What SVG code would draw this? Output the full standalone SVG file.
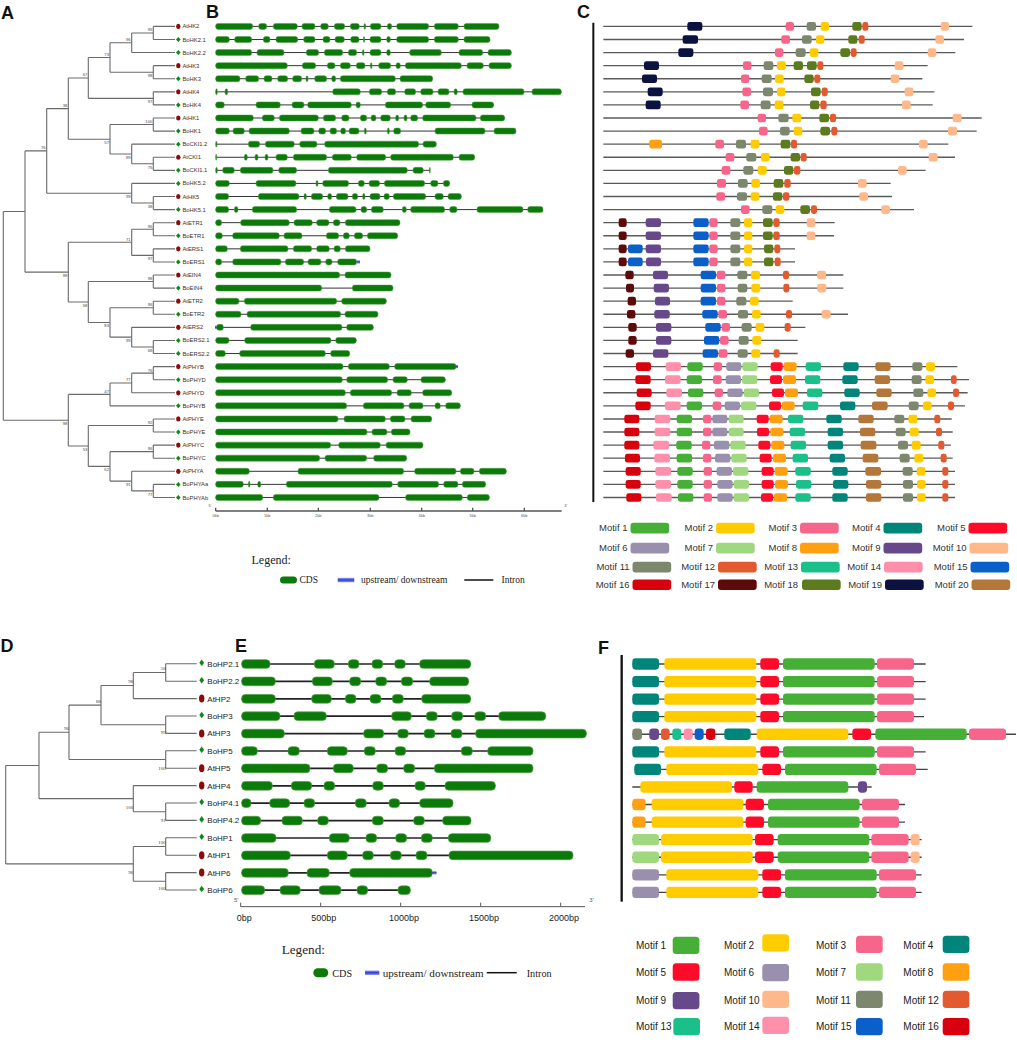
<svg xmlns="http://www.w3.org/2000/svg" xmlns:xlink="http://www.w3.org/1999/xlink" width="1017" height="1046" viewBox="0 0 1017 1046">
<style>
text{font-family:"Liberation Sans",Arial,sans-serif}
.lab{font-weight:bold;font-size:18px;fill:#111}
.tr{stroke:#6a6a6a;stroke-width:1.1;fill:none}
.bs{font-size:4.2px;fill:#444;text-anchor:end}
.bsd{font-family:"Liberation Serif","Times New Roman",serif;font-size:5px;fill:#444;text-anchor:end}
.ln{font-size:5.8px;fill:#333}
.ld{font-size:8px;fill:#222}
.ser{font-family:"Liberation Serif","Times New Roman",serif;fill:#222}
.gb rect{fill:#0B7A0B;stroke:#4E9E3E;stroke-width:1.5;y:-9px;height:18px;rx:7px}
.gb line{stroke:#333;stroke-width:3}
.ge rect{fill:#0B7A0B;stroke:#4E9E3E;stroke-width:2;y:-13px;height:26px;rx:11px}
.ge line{stroke:#222;stroke-width:5}
.gb rect.up,.ge rect.up{fill:url(#blu);stroke:none;y:-5px;height:10px;rx:0}
.pc line{stroke:#5a5a5a;stroke-width:4}
.pc rect{y:-13px;height:26px;rx:7px}
.pf line{stroke:#444;stroke-width:4}
.pf rect{y:-17px;height:34px;rx:10px}
.ax{stroke:#555;fill:none}
.mt{font-size:9.5px;fill:#333;text-anchor:end}
.mf{font-size:10px;fill:#222}
.m1{fill:#45B035}.m2{fill:#FFCC00}.m3{fill:#F7658B}.m4{fill:#00857A}.m5{fill:#FF0A28}
.m6{fill:#9890AC}.m7{fill:#A0D880}.m8{fill:#FFA010}.m9{fill:#67488A}.m10{fill:#FFB889}
.m11{fill:#7C876E}.m12{fill:#E45A30}.m13{fill:#1ABF8A}.m14{fill:#FF8FAA}.m15{fill:#0A60C8}
.m16{fill:#D8000C}.m17{fill:#5C0A0A}.m18{fill:#5B7B1E}.m19{fill:#0B1240}.m20{fill:#B5763A}
</style>
<defs>
<linearGradient id="blu" x1="0" y1="0" x2="0" y2="1"><stop offset="0" stop-color="#9aa0f2"/><stop offset="0.5" stop-color="#2a3ad0"/><stop offset="1" stop-color="#9aa0f2"/></linearGradient>
<ellipse id="ea" rx="2.2" ry="2.6" fill="#8B0B0B"/>
<path id="da" d="M0 -2.5 L2.3 0 L0 2.5 L-2.3 0Z" fill="#0B8A1B"/>
<ellipse id="ed" rx="2.7" ry="4" fill="#8B0B0B"/>
<path id="dd" d="M0 -4.3 L2.4 -1 L0 2.3 L-2.4 -1Z" fill="#0B8A1B"/>
</defs>
<rect width="1017" height="1046" fill="#fff"/>

<text class="lab" x="1" y="18.5">A</text>
<text class="lab" x="206" y="17.5">B</text>
<text class="lab" x="577" y="18">C</text>
<text class="lab" x="0.5" y="651.5">D</text>
<text class="lab" x="235" y="651.5">E</text>
<text class="lab" x="598" y="654">F</text>

<!-- Panel A tree connectors -->
<g id="connectorsA">
<path class="tr" d="M153.3 26.4V39.49M131.7 32.95V52.57M153.3 65.66V78.74M110 42.76V72.2M153.3 91.83V104.91M88.3 57.48V98.37M153.3 118V131.08M153.3 157.25V170.34M131.7 144.17V163.8M110 124.54V153.98M68.3 77.93V139.26M153.3 196.51V209.59M131.7 183.42V203.05M46.7 108.6V193.24M153.3 222.68V235.76M153.3 248.85V261.93M131.7 229.22V255.39M153.3 275.02V288.1M153.3 301.19V314.27M153.3 340.44V353.53M131.7 327.36V346.99M110 307.73V337.17M88.3 281.56V322.45M68.3 242.3V302M25 150.92V272.15M153.3 366.61V379.7M131.7 373.16V392.78M110 382.97V405.87M153.3 418.95V432.04M153.3 445.12V458.21M153.3 484.38V497.46M131.7 471.29V490.92M110 451.67V481.1M88.3 425.5V466.39M68.3 394.42V445.95M3.3 211.54V420.18"/>
<path class="tr" d="M153.3 26.4H175M153.3 39.49H175M131.7 52.57H175M153.3 65.66H175M153.3 78.74H175M153.3 91.83H175M153.3 104.91H175M153.3 118H175M153.3 131.08H175M131.7 144.17H175M153.3 157.25H175M153.3 170.34H175M131.7 183.42H175M153.3 196.51H175M153.3 209.59H175M153.3 222.68H175M153.3 235.76H175M153.3 248.85H175M153.3 261.93H175M153.3 275.02H175M153.3 288.1H175M153.3 301.19H175M153.3 314.27H175M131.7 327.36H175M153.3 340.44H175M153.3 353.53H175M153.3 366.61H175M153.3 379.7H175M131.7 392.78H175M110 405.87H175M153.3 418.95H175M153.3 432.04H175M153.3 445.12H175M153.3 458.21H175M131.7 471.29H175M153.3 484.38H175M153.3 497.46H175"/>
<path class="tr" d="M131.7 32.95H153.3M110 42.76H131.7M110 72.2H153.3M88.3 57.48H110M88.3 98.37H153.3M68.3 77.93H88.3M110 124.54H153.3M131.7 163.8H153.3M110 153.98H131.7M68.3 139.26H110M46.7 108.6H68.3M131.7 203.05H153.3M46.7 193.24H131.7M25 150.92H46.7M131.7 229.22H153.3M131.7 255.39H153.3M68.3 242.3H131.7M88.3 281.56H153.3M110 307.73H153.3M131.7 346.99H153.3M110 337.17H131.7M88.3 322.45H110M68.3 302H88.3M25 272.15H68.3M3.3 211.54H25M131.7 373.16H153.3M110 382.97H131.7M68.3 394.42H110M88.3 425.5H153.3M110 451.67H153.3M131.7 490.92H153.3M110 481.1H131.7M88.3 466.39H110M68.3 445.95H88.3M3.3 420.18H68.3"/>
</g>
<g id="bootstrapA">
<text class="bs" x="152.3" y="31.45">95</text><text class="bs" x="130.7" y="41.26">96</text><text class="bs" x="152.3" y="77">98</text><text class="bs" x="109" y="55.98">73</text><text class="bs" x="152.3" y="103.17">97</text><text class="bs" x="87.3" y="76.43">67</text><text class="bs" x="152.3" y="123.04">100</text><text class="bs" x="152.3" y="168.6">75</text><text class="bs" x="130.7" y="158.78">89</text><text class="bs" x="109" y="144.06">57</text><text class="bs" x="67.3" y="107.1">38</text><text class="bs" x="152.3" y="207.85">38</text><text class="bs" x="130.7" y="198.04">99</text><text class="bs" x="45.7" y="149.42">76</text>
<text class="bs" x="152.3" y="227.72">96</text><text class="bs" x="152.3" y="260.19">97</text><text class="bs" x="130.7" y="240.8">71</text><text class="bs" x="152.3" y="280.06">98</text><text class="bs" x="152.3" y="306.23">96</text><text class="bs" x="152.3" y="351.79">68</text><text class="bs" x="130.7" y="341.97">99</text><text class="bs" x="109" y="327.25">83</text><text class="bs" x="87.3" y="306.8">58</text><text class="bs" x="67.3" y="276.95">98</text>
<text class="bs" x="152.3" y="371.66">76</text><text class="bs" x="130.7" y="381.47">77</text><text class="bs" x="109" y="392.92">47</text><text class="bs" x="152.3" y="424">92</text><text class="bs" x="152.3" y="450.17">96</text><text class="bs" x="152.3" y="495.72">77</text><text class="bs" x="130.7" y="485.9">91</text><text class="bs" x="109" y="471.19">62</text><text class="bs" x="87.3" y="450.75">53</text><text class="bs" x="67.3" y="424.98">98</text>
</g>
<g id="leavesA">
<g id="A-AtHK2"><use href="#ea" x="178.3" y="26.4"/><text class="ln" x="182.5" y="28.4">AtHK2</text></g>
<g id="A-BoHK2.1"><use href="#da" x="178.3" y="39.49"/><text class="ln" x="182.5" y="41.5">BoHK2.1</text></g>
<g id="A-BoHK2.2"><use href="#da" x="178.3" y="52.57"/><text class="ln" x="182.5" y="54.6">BoHK2.2</text></g>
<g id="A-AtHK3"><use href="#ea" x="178.3" y="65.66"/><text class="ln" x="182.5" y="67.7">AtHK3</text></g>
<g id="A-BoHK3"><use href="#da" x="178.3" y="78.74"/><text class="ln" x="182.5" y="80.7">BoHK3</text></g>
<g id="A-AtHK4"><use href="#ea" x="178.3" y="91.83"/><text class="ln" x="182.5" y="93.8">AtHK4</text></g>
<g id="A-BoHK4"><use href="#da" x="178.3" y="104.91"/><text class="ln" x="182.5" y="106.9">BoHK4</text></g>
<g id="A-AtHK1"><use href="#ea" x="178.3" y="118"/><text class="ln" x="182.5" y="120">AtHK1</text></g>
<g id="A-BoHK1"><use href="#da" x="178.3" y="131.08"/><text class="ln" x="182.5" y="133.1">BoHK1</text></g>
<g id="A-BoCKI1.2"><use href="#da" x="178.3" y="144.17"/><text class="ln" x="182.5" y="146.2">BoCKI1.2</text></g>
<g id="A-AtCKI1"><use href="#ea" x="178.3" y="157.25"/><text class="ln" x="182.5" y="159.3">AtCKI1</text></g>
<g id="A-BoCKI1.1"><use href="#da" x="178.3" y="170.34"/><text class="ln" x="182.5" y="172.3">BoCKI1.1</text></g>
<g id="A-BoHK5.2"><use href="#da" x="178.3" y="183.42"/><text class="ln" x="182.5" y="185.4">BoHK5.2</text></g>
<g id="A-AtHK5"><use href="#ea" x="178.3" y="196.51"/><text class="ln" x="182.5" y="198.5">AtHK5</text></g>
<g id="A-BoHK5.1"><use href="#da" x="178.3" y="209.59"/><text class="ln" x="182.5" y="211.6">BoHK5.1</text></g>
<g id="A-AtETR1"><use href="#ea" x="178.3" y="222.68"/><text class="ln" x="182.5" y="224.7">AtETR1</text></g>
<g id="A-BoETR1"><use href="#da" x="178.3" y="235.76"/><text class="ln" x="182.5" y="237.8">BoETR1</text></g>
<g id="A-AtERS1"><use href="#ea" x="178.3" y="248.85"/><text class="ln" x="182.5" y="250.9">AtERS1</text></g>
<g id="A-BoERS1"><use href="#da" x="178.3" y="261.93"/><text class="ln" x="182.5" y="263.9">BoERS1</text></g>
<g id="A-AtEIN4"><use href="#ea" x="178.3" y="275.02"/><text class="ln" x="182.5" y="277">AtEIN4</text></g>
<g id="A-BoEIN4"><use href="#da" x="178.3" y="288.1"/><text class="ln" x="182.5" y="290.1">BoEIN4</text></g>
<g id="A-AtETR2"><use href="#ea" x="178.3" y="301.19"/><text class="ln" x="182.5" y="303.2">AtETR2</text></g>
<g id="A-BoETR2"><use href="#da" x="178.3" y="314.27"/><text class="ln" x="182.5" y="316.3">BoETR2</text></g>
<g id="A-AtERS2"><use href="#ea" x="178.3" y="327.36"/><text class="ln" x="182.5" y="329.4">AtERS2</text></g>
<g id="A-BoERS2.1"><use href="#da" x="178.3" y="340.44"/><text class="ln" x="182.5" y="342.4">BoERS2.1</text></g>
<g id="A-BoERS2.2"><use href="#da" x="178.3" y="353.53"/><text class="ln" x="182.5" y="355.5">BoERS2.2</text></g>
<g id="A-AtPHYB"><use href="#ea" x="178.3" y="366.61"/><text class="ln" x="182.5" y="368.6">AtPHYB</text></g>
<g id="A-BoPHYD"><use href="#da" x="178.3" y="379.7"/><text class="ln" x="182.5" y="381.7">BoPHYD</text></g>
<g id="A-AtPHYD"><use href="#ea" x="178.3" y="392.78"/><text class="ln" x="182.5" y="394.8">AtPHYD</text></g>
<g id="A-BoPHYB"><use href="#da" x="178.3" y="405.87"/><text class="ln" x="182.5" y="407.9">BoPHYB</text></g>
<g id="A-AtPHYE"><use href="#ea" x="178.3" y="418.95"/><text class="ln" x="182.5" y="421">AtPHYE</text></g>
<g id="A-BoPHYE"><use href="#da" x="178.3" y="432.04"/><text class="ln" x="182.5" y="434">BoPHYE</text></g>
<g id="A-AtPHYC"><use href="#ea" x="178.3" y="445.12"/><text class="ln" x="182.5" y="447.1">AtPHYC</text></g>
<g id="A-BoPHYC"><use href="#da" x="178.3" y="458.21"/><text class="ln" x="182.5" y="460.2">BoPHYC</text></g>
<g id="A-AtPHYA"><use href="#ea" x="178.3" y="471.29"/><text class="ln" x="182.5" y="473.3">AtPHYA</text></g>
<g id="A-BoPHYAa"><use href="#da" x="178.3" y="484.38"/><text class="ln" x="182.5" y="486.4">BoPHYAa</text></g>
<g id="A-BoPHYAb"><use href="#da" x="178.3" y="497.46"/><text class="ln" x="182.5" y="499.5">BoPHYAb</text></g>
</g>

<!-- Panel B gene structures (coords x3) -->
<g id="panelB" transform="translate(200,0) scale(0.333333)">
<g id="B-AtHK2" class="gb" transform="translate(0,79.2)"><line x1="47" x2="897"/><rect x="47" width="111"/><rect x="176" width="24"/><rect x="220" width="72"/><rect x="306" width="39"/><rect x="362" width="23"/><rect x="403" width="31"/><rect x="451" width="27"/><rect x="492" width="5"/><rect x="511" width="32"/><rect x="562" width="13"/><rect x="590" width="96"/><rect x="703" width="72"/><rect x="792" width="105"/></g>
<g id="B-BoHK2.1" class="gb" transform="translate(0,118.5)"><line x1="47" x2="870"/><rect x="47" width="41"/><rect x="104" width="51"/><rect x="190" width="20"/><rect x="228" width="65"/><rect x="311" width="34"/><rect x="369" width="21"/><rect x="405" width="28"/><rect x="452" width="25"/><rect x="490" width="4"/><rect x="510" width="33"/><rect x="560" width="11"/><rect x="590" width="96"/><rect x="703" width="72"/><rect x="792" width="78"/></g>
<g id="B-BoHK2.2" class="gb" transform="translate(0,157.7)"><line x1="47" x2="934"/><rect x="47" width="108"/><rect x="171" width="81"/><rect x="319" width="37"/><rect x="373" width="55"/><rect x="445" width="25"/><rect x="487" width="5"/><rect x="510" width="33"/><rect x="560" width="11"/><rect x="629" width="95"/><rect x="777" width="71"/><rect x="864" width="70"/></g>
<g id="B-AtHK3" class="gb" transform="translate(0,197)"><line x1="47" x2="934"/><rect x="47" width="215"/><rect x="307" width="40"/><rect x="382" width="23"/><rect x="421" width="30"/><rect x="469" width="26"/><rect x="511" width="5"/><rect x="536" width="36"/><rect x="588" width="13"/><rect x="616" width="168"/><rect x="801" width="49"/><rect x="867" width="67"/></g>
<g id="B-BoHK3" class="gb" transform="translate(0,236.2)"><line x1="47" x2="698"/><rect x="47" width="73"/><rect x="137" width="39"/><rect x="192" width="24"/><rect x="233" width="30"/><rect x="278" width="27"/><rect x="318" width="6"/><rect x="344" width="36"/><rect x="395" width="12"/><rect x="421" width="165"/><rect x="600" width="98"/></g>
<g id="B-AtHK4" class="gb" transform="translate(0,275.5)"><line x1="47" x2="1084"/><rect x="47" width="5"/><rect x="75" width="8"/><rect x="398" width="83"/><rect x="508" width="37"/><rect x="562" width="25"/><rect x="614" width="33"/><rect x="662" width="37"/><rect x="714" width="33"/><rect x="762" width="10"/><rect x="789" width="183"/><rect x="996" width="88"/></g>
<g id="B-BoHK4" class="gb" transform="translate(0,314.7)"><line x1="47" x2="881"/><rect x="47" width="26"/><rect x="168" width="73"/><rect x="276" width="36"/><rect x="323" width="131"/><rect x="468" width="13"/><rect x="556" width="112"/><rect x="677" width="75"/><rect x="816" width="65"/></g>
<g id="B-AtHK1" class="gb" transform="translate(0,354)"><line x1="47" x2="914"/><rect x="47" width="113"/><rect x="187" width="36"/><rect x="238" width="117"/><rect x="370" width="37"/><rect x="425" width="22"/><rect x="481" width="19"/><rect x="513" width="15"/><rect x="542" width="29"/><rect x="587" width="9"/><rect x="612" width="9"/><rect x="632" width="21"/><rect x="668" width="160"/><rect x="841" width="73"/></g>
<g id="B-BoHK1" class="gb" transform="translate(0,393.2)"><line x1="47" x2="948"/><rect x="47" width="41"/><rect x="99" width="34"/><rect x="147" width="121"/><rect x="303" width="39"/><rect x="356" width="21"/><rect x="390" width="20"/><rect x="422" width="15"/><rect x="447" width="30"/><rect x="493" width="6"/><rect x="562" width="6"/><rect x="581" width="21"/><rect x="705" width="150"/><rect x="882" width="66"/></g>
<g id="B-BoCKI1.2" class="gb" transform="translate(0,432.5)"><line x1="47" x2="709"/><rect x="47" width="4"/><rect x="145" width="34"/><rect x="196" width="87"/><rect x="299" width="52"/><rect x="374" width="282"/><rect x="669" width="40"/></g>
<g id="B-AtCKI1" class="gb" transform="translate(0,471.8)"><line x1="47" x2="824"/><rect x="47" width="3"/><rect x="133" width="9"/><rect x="165" width="9"/><rect x="195" width="9"/><rect x="228" width="34"/><rect x="280" width="100"/><rect x="397" width="57"/><rect x="470" width="87"/><rect x="572" width="188"/><rect x="777" width="47"/></g>
<g id="B-BoCKI1.1" class="gb" transform="translate(0,511)"><line x1="47" x2="690"/><rect x="47" width="5"/><rect x="68" width="35"/><rect x="121" width="98"/><rect x="236" width="54"/><rect x="385" width="237"/><rect x="639" width="31"/><rect x="688" width="3"/></g>
<g id="B-BoHK5.2" class="gb" transform="translate(0,550.3)"><line x1="47" x2="749"/><rect x="47" width="41"/><rect x="168" width="120"/><rect x="348" width="6"/><rect x="368" width="78"/><rect x="475" width="18"/><rect x="507" width="32"/><rect x="553" width="121"/><rect x="692" width="22"/><rect x="730" width="19"/></g>
<g id="B-AtHK5" class="gb" transform="translate(0,589.5)"><line x1="47" x2="784"/><rect x="47" width="39"/><rect x="175" width="122"/><rect x="312" width="7"/><rect x="334" width="34"/><rect x="383" width="12"/><rect x="409" width="35"/><rect x="457" width="16"/><rect x="488" width="7"/><rect x="510" width="30"/><rect x="552" width="16"/><rect x="580" width="97"/><rect x="705" width="25"/><rect x="744" width="40"/></g>
<g id="B-BoHK5.1" class="gb" transform="translate(0,628.8)"><line x1="47" x2="1029"/><rect x="47" width="39"/><rect x="103" width="11"/><rect x="157" width="133"/><rect x="388" width="80"/><rect x="483" width="17"/><rect x="514" width="36"/><rect x="607" width="12"/><rect x="632" width="102"/><rect x="749" width="22"/><rect x="831" width="138"/><rect x="983" width="46"/></g>
<g id="B-AtETR1" class="gb" transform="translate(0,668)"><line x1="47" x2="600"/><rect x="47" width="18"/><rect x="122" width="146"/><rect x="282" width="55"/><rect x="350" width="37"/><rect x="400" width="20"/><rect x="436" width="164"/></g>
<g id="B-BoETR1" class="gb" transform="translate(0,707.3)"><line x1="47" x2="593"/><rect x="47" width="20"/><rect x="98" width="140"/><rect x="252" width="54"/><rect x="379" width="37"/><rect x="430" width="18"/><rect x="463" width="25"/><rect x="502" width="91"/></g>
<g id="B-AtERS1" class="gb" transform="translate(0,746.5)"><line x1="47" x2="510"/><rect x="47" width="35"/><rect x="121" width="143"/><rect x="280" width="55"/><rect x="350" width="38"/><rect x="402" width="19"/><rect x="436" width="74"/></g>
<g id="B-BoERS1" class="gb" transform="translate(0,785.8)"><line x1="47" x2="470"/><rect x="47" width="18"/><rect x="98" width="145"/><rect x="256" width="55"/><rect x="324" width="39"/><rect x="377" width="19"/><rect x="413" width="57"/><rect class="up" x="470" width="10"/></g>
<g id="B-AtEIN4" class="gb" transform="translate(0,825)"><line x1="47" x2="573"/><rect x="47" width="372"/><rect x="435" width="138"/></g>
<g id="B-BoEIN4" class="gb" transform="translate(0,864.3)"><line x1="47" x2="579"/><rect x="47" width="318"/><rect x="457" width="122"/></g>
<g id="B-AtETR2" class="gb" transform="translate(0,903.6)"><line x1="47" x2="559"/><rect x="47" width="70"/><rect x="133" width="277"/><rect x="425" width="134"/></g>
<g id="B-BoETR2" class="gb" transform="translate(0,942.8)"><line x1="47" x2="534"/><rect x="47" width="76"/><rect x="141" width="281"/><rect x="435" width="99"/></g>
<g id="B-AtERS2" class="gb" transform="translate(0,982.1)"><line x1="47" x2="520"/><rect class="up" x="45" width="6"/><rect x="50" width="20"/><rect x="152" width="274"/><rect x="440" width="80"/></g>
<g id="B-BoERS2.1" class="gb" transform="translate(0,1021.3)"><line x1="47" x2="469"/><rect x="47" width="40"/><rect x="134" width="259"/><rect x="407" width="62"/></g>
<g id="B-BoERS2.2" class="gb" transform="translate(0,1060.6)"><line x1="47" x2="449"/><rect x="47" width="29"/><rect x="119" width="257"/><rect x="392" width="57"/></g>
<g id="B-AtPHYB" class="gb" transform="translate(0,1099.8)"><line x1="47" x2="768"/><rect x="47" width="382"/><rect x="445" width="123"/><rect x="584" width="184"/><rect class="up" x="768" width="6"/></g>
<g id="B-BoPHYD" class="gb" transform="translate(0,1139.1)"><line x1="47" x2="736"/><rect x="47" width="380"/><rect x="440" width="123"/><rect x="579" width="43"/><rect x="663" width="73"/></g>
<g id="B-AtPHYD" class="gb" transform="translate(0,1178.3)"><line x1="47" x2="755"/><rect x="47" width="389"/><rect x="451" width="124"/><rect x="591" width="43"/><rect x="668" width="87"/></g>
<g id="B-BoPHYB" class="gb" transform="translate(0,1217.6)"><line x1="47" x2="781"/><rect x="47" width="393"/><rect x="490" width="122"/><rect x="627" width="42"/><rect x="705" width="16"/><rect x="737" width="44"/></g>
<g id="B-AtPHYE" class="gb" transform="translate(0,1256.9)"><line x1="47" x2="695"/><rect x="47" width="367"/><rect x="432" width="124"/><rect x="571" width="44"/><rect x="633" width="62"/></g>
<g id="B-BoPHYE" class="gb" transform="translate(0,1296.1)"><line x1="47" x2="630"/><rect x="47" width="454"/><rect x="516" width="45"/><rect x="574" width="56"/></g>
<g id="B-AtPHYC" class="gb" transform="translate(0,1335.4)"><line x1="47" x2="669"/><rect x="47" width="345"/><rect x="416" width="125"/><rect x="558" width="111"/></g>
<g id="B-BoPHYC" class="gb" transform="translate(0,1374.6)"><line x1="47" x2="620"/><rect x="47" width="312"/><rect x="375" width="125"/><rect x="521" width="99"/></g>
<g id="B-AtPHYA" class="gb" transform="translate(0,1413.9)"><line x1="47" x2="919"/><rect x="47" width="101"/><rect x="294" width="317"/><rect x="644" width="124"/><rect x="781" width="41"/><rect x="838" width="81"/></g>
<g id="B-BoPHYAa" class="gb" transform="translate(0,1453.1)"><line x1="47" x2="857"/><rect x="47" width="83"/><rect x="145" width="5"/><rect x="173" width="9"/><rect x="259" width="318"/><rect x="593" width="123"/><rect x="731" width="43"/><rect x="787" width="70"/></g>
<g id="B-BoPHYAb" class="gb" transform="translate(0,1492.4)"><line x1="47" x2="868"/><rect x="47" width="141"/><rect x="220" width="317"/><rect x="617" width="170"/><rect x="802" width="66"/></g>
<g id="B-axis">
<path class="ax" stroke-width="4" d="M47 1533H1085M47 1533V1523M202 1533V1523M355 1533V1523M511 1533V1523M665 1533V1523M818 1533V1523M973 1533V1523"/>
<g font-size="12" fill="#555" text-anchor="middle"><text x="47" y="1551">0kb</text><text x="202" y="1551">1kb</text><text x="355" y="1551">2kb</text><text x="511" y="1551">3kb</text><text x="665" y="1551">4kb</text><text x="818" y="1551">5kb</text><text x="973" y="1551">6kb</text><text x="30" y="1520">5'</text><text x="1097" y="1520">3'</text></g>
</g>
</g>
<g id="legendB">
<text class="ser" x="251.5" y="563.5" font-size="12">Legend:</text>
<rect x="280" y="576.5" width="17" height="7" rx="3.5" fill="#0B7A0B"/>
<text class="ser" x="299.5" y="583.2" font-size="9.5">CDS</text>
<rect x="337.7" y="577.8" width="16.6" height="4.5" fill="url(#blu)"/>
<text class="ser" x="361" y="583.2" font-size="9.5">upstream/ downstream</text>
<line x1="464.3" y1="580" x2="493.3" y2="580" stroke="#111" stroke-width="1.5"/>
<text class="ser" x="501.5" y="583.2" font-size="9.5">Intron</text>
</g>

<!-- Panel C motifs (coords x3) -->
<g id="panelC" class="pc" transform="translate(580,0) scale(0.333333)">
<line x1="40" y1="68" x2="40" y2="1506" style="stroke:#111;stroke-width:6"/>
<g id="C-AtHK2" transform="translate(0,79.2)"><line x1="70" x2="1177"/><rect class="m19" x="322" width="45"/><rect class="m3" x="617" width="25"/><rect class="m11" x="680" width="28"/><rect class="m2" x="722" width="25"/><rect class="m18" x="817" width="28"/><rect class="m12" x="847" width="18"/><rect class="m10" x="1082" width="25"/></g>
<g id="C-BoHK2.1" transform="translate(0,118.5)"><line x1="70" x2="1152"/><rect class="m19" x="308" width="46"/><rect class="m3" x="604" width="26"/><rect class="m11" x="666" width="29"/><rect class="m2" x="708" width="25"/><rect class="m18" x="805" width="27"/><rect class="m12" x="836" width="18"/><rect class="m10" x="1066" width="26"/></g>
<g id="C-BoHK2.2" transform="translate(0,157.7)"><line x1="70" x2="1126"/><rect class="m19" x="295" width="45"/><rect class="m3" x="585" width="25"/><rect class="m11" x="647" width="30"/><rect class="m2" x="689" width="26"/><rect class="m18" x="781" width="29"/><rect class="m12" x="812" width="18"/><rect class="m10" x="1043" width="26"/></g>
<g id="C-AtHK3" transform="translate(0,197)"><line x1="70" x2="1043"/><rect class="m19" x="192" width="45"/><rect class="m3" x="489" width="25"/><rect class="m11" x="551" width="29"/><rect class="m2" x="591" width="27"/><rect class="m18" x="641" width="28"/><rect class="m18" x="681" width="29"/><rect class="m12" x="712" width="18"/><rect class="m10" x="944" width="26"/></g>
<g id="C-BoHK3" transform="translate(0,236.2)"><line x1="70" x2="1027"/><rect class="m19" x="186" width="45"/><rect class="m3" x="483" width="25"/><rect class="m11" x="545" width="30"/><rect class="m2" x="585" width="26"/><rect class="m18" x="673" width="28"/><rect class="m12" x="703" width="18"/><rect class="m10" x="932" width="26"/></g>
<g id="C-AtHK4" transform="translate(0,275.5)"><line x1="70" x2="1063"/><rect class="m19" x="203" width="45"/><rect class="m3" x="487" width="26"/><rect class="m11" x="549" width="30"/><rect class="m2" x="591" width="25"/><rect class="m18" x="693" width="29"/><rect class="m12" x="725" width="18"/><rect class="m10" x="974" width="26"/></g>
<g id="C-BoHK4" transform="translate(0,314.7)"><line x1="70" x2="1058"/><rect class="m19" x="197" width="45"/><rect class="m3" x="481" width="26"/><rect class="m11" x="542" width="30"/><rect class="m2" x="584" width="26"/><rect class="m18" x="690" width="28"/><rect class="m12" x="721" width="19"/><rect class="m10" x="966" width="26"/></g>
<g id="C-AtHK1" transform="translate(0,354)"><line x1="70" x2="1205"/><rect class="m3" x="533" width="25"/><rect class="m11" x="595" width="31"/><rect class="m2" x="637" width="27"/><rect class="m18" x="718" width="29"/><rect class="m12" x="750" width="18"/><rect class="m10" x="1118" width="27"/></g>
<g id="C-BoHK1" transform="translate(0,393.2)"><line x1="70" x2="1190"/><rect class="m3" x="537" width="26"/><rect class="m11" x="600" width="29"/><rect class="m2" x="641" width="26"/><rect class="m18" x="721" width="29"/><rect class="m12" x="754" width="18"/><rect class="m10" x="1104" width="27"/></g>
<g id="C-BoCKI1.2" transform="translate(0,432.5)"><line x1="70" x2="1105"/><rect class="m8" x="208" width="38"/><rect class="m3" x="406" width="26"/><rect class="m11" x="468" width="30"/><rect class="m2" x="512" width="26"/><rect class="m18" x="602" width="29"/><rect class="m12" x="633" width="18"/><rect class="m10" x="1017" width="26"/></g>
<g id="C-AtCKI1" transform="translate(0,471.8)"><line x1="70" x2="1125"/><rect class="m3" x="437" width="26"/><rect class="m11" x="499" width="30"/><rect class="m2" x="543" width="26"/><rect class="m18" x="632" width="28"/><rect class="m12" x="662" width="18"/><rect class="m10" x="1046" width="27"/></g>
<g id="C-BoCKI1.1" transform="translate(0,511)"><line x1="70" x2="1037"/><rect class="m3" x="425" width="26"/><rect class="m11" x="490" width="30"/><rect class="m2" x="533" width="27"/><rect class="m18" x="612" width="28"/><rect class="m12" x="642" width="19"/><rect class="m10" x="954" width="26"/></g>
<g id="C-BoHK5.2" transform="translate(0,550.3)"><line x1="70" x2="932"/><rect class="m3" x="411" width="27"/><rect class="m11" x="474" width="29"/><rect class="m2" x="514" width="26"/><rect class="m18" x="581" width="29"/><rect class="m12" x="613" width="19"/><rect class="m10" x="834" width="26"/></g>
<g id="C-AtHK5" transform="translate(0,589.5)"><line x1="70" x2="936"/><rect class="m3" x="409" width="26"/><rect class="m11" x="471" width="30"/><rect class="m2" x="512" width="26"/><rect class="m18" x="579" width="28"/><rect class="m12" x="609" width="19"/><rect class="m10" x="838" width="26"/></g>
<g id="C-BoHK5.1" transform="translate(0,628.8)"><line x1="70" x2="1002"/><rect class="m3" x="483" width="26"/><rect class="m11" x="547" width="30"/><rect class="m2" x="587" width="26"/><rect class="m18" x="661" width="29"/><rect class="m12" x="693" width="18"/><rect class="m10" x="904" width="26"/></g>
<g id="C-AtETR1" transform="translate(0,668)"><line x1="70" x2="764"/><rect class="m17" x="116" width="24"/><rect class="m9" x="197" width="46"/><rect class="m15" x="340" width="46"/><rect class="m3" x="388" width="25"/><rect class="m11" x="451" width="30"/><rect class="m2" x="492" width="25"/><rect class="m18" x="549" width="29"/><rect class="m12" x="580" width="19"/><rect class="m10" x="680" width="26"/></g>
<g id="C-BoETR1" transform="translate(0,707.3)"><line x1="70" x2="762"/><rect class="m17" x="116" width="24"/><rect class="m9" x="197" width="46"/><rect class="m15" x="340" width="46"/><rect class="m3" x="388" width="25"/><rect class="m11" x="451" width="30"/><rect class="m2" x="492" width="25"/><rect class="m18" x="549" width="29"/><rect class="m12" x="580" width="19"/><rect class="m10" x="680" width="26"/></g>
<g id="C-AtERS1" transform="translate(0,746.5)"><line x1="70" x2="645"/><rect class="m17" x="116" width="24"/><rect class="m15" x="144" width="44"/><rect class="m9" x="197" width="46"/><rect class="m15" x="340" width="46"/><rect class="m3" x="388" width="25"/><rect class="m11" x="451" width="30"/><rect class="m2" x="492" width="25"/><rect class="m18" x="552" width="28"/><rect class="m12" x="583" width="18"/></g>
<g id="C-BoERS1" transform="translate(0,785.8)"><line x1="70" x2="645"/><rect class="m17" x="116" width="24"/><rect class="m15" x="144" width="44"/><rect class="m9" x="198" width="45"/><rect class="m15" x="340" width="46"/><rect class="m3" x="388" width="25"/><rect class="m11" x="451" width="30"/><rect class="m2" x="492" width="25"/><rect class="m18" x="552" width="28"/><rect class="m12" x="584" width="18"/></g>
<g id="C-AtEIN4" transform="translate(0,825)"><line x1="70" x2="790"/><rect class="m17" x="136" width="25"/><rect class="m9" x="219" width="45"/><rect class="m15" x="362" width="46"/><rect class="m3" x="410" width="26"/><rect class="m11" x="472" width="30"/><rect class="m2" x="513" width="27"/><rect class="m12" x="609" width="18"/><rect class="m10" x="711" width="27"/></g>
<g id="C-BoEIN4" transform="translate(0,864.3)"><line x1="70" x2="790"/><rect class="m17" x="138" width="24"/><rect class="m9" x="221" width="46"/><rect class="m15" x="362" width="46"/><rect class="m3" x="411" width="25"/><rect class="m11" x="473" width="29"/><rect class="m2" x="514" width="27"/><rect class="m12" x="610" width="18"/><rect class="m10" x="712" width="27"/></g>
<g id="C-AtETR2" transform="translate(0,903.6)"><line x1="70" x2="638"/><rect class="m17" x="143" width="25"/><rect class="m9" x="225" width="45"/><rect class="m15" x="362" width="46"/><rect class="m3" x="411" width="25"/><rect class="m11" x="469" width="30"/><rect class="m2" x="510" width="26"/></g>
<g id="C-BoETR2" transform="translate(0,942.8)"><line x1="70" x2="804"/><rect class="m17" x="141" width="25"/><rect class="m9" x="223" width="46"/><rect class="m15" x="367" width="46"/><rect class="m3" x="415" width="26"/><rect class="m11" x="474" width="30"/><rect class="m2" x="516" width="26"/><rect class="m12" x="618" width="18"/><rect class="m10" x="725" width="27"/></g>
<g id="C-AtERS2" transform="translate(0,982.1)"><line x1="70" x2="676"/><rect class="m17" x="145" width="25"/><rect class="m9" x="228" width="46"/><rect class="m15" x="376" width="46"/><rect class="m3" x="425" width="25"/><rect class="m11" x="485" width="30"/><rect class="m2" x="527" width="26"/><rect class="m12" x="614" width="18"/></g>
<g id="C-BoERS2.1" transform="translate(0,1021.3)"><line x1="70" x2="653"/><rect class="m17" x="145" width="25"/><rect class="m9" x="228" width="46"/><rect class="m15" x="372" width="46"/><rect class="m3" x="420" width="26"/><rect class="m11" x="476" width="30"/><rect class="m2" x="517" width="27"/></g>
<g id="C-BoERS2.2" transform="translate(0,1060.6)"><line x1="70" x2="653"/><rect class="m17" x="137" width="25"/><rect class="m9" x="219" width="46"/><rect class="m15" x="368" width="46"/><rect class="m3" x="416" width="26"/><rect class="m11" x="473" width="30"/><rect class="m2" x="514" width="27"/><rect class="m12" x="581" width="18"/></g>
<g id="C-AtPHYB" transform="translate(0,1099.8)"><line x1="70" x2="1132"/><rect class="m16" x="168" width="45"/><rect class="m14" x="257" width="46"/><rect class="m1" x="322" width="46"/><rect class="m3" x="401" width="25"/><rect class="m6" x="439" width="45"/><rect class="m7" x="487" width="46"/><rect class="m5" x="572" width="36"/><rect class="m8" x="611" width="39"/><rect class="m13" x="677" width="46"/><rect class="m4" x="790" width="46"/><rect class="m20" x="886" width="46"/><rect class="m11" x="997" width="30"/><rect class="m2" x="1038" width="27"/></g>
<g id="C-BoPHYD" transform="translate(0,1139.1)"><line x1="70" x2="1167"/><rect class="m16" x="166" width="46"/><rect class="m14" x="255" width="47"/><rect class="m1" x="320" width="46"/><rect class="m3" x="399" width="26"/><rect class="m6" x="437" width="46"/><rect class="m7" x="486" width="46"/><rect class="m5" x="570" width="36"/><rect class="m8" x="609" width="39"/><rect class="m13" x="675" width="46"/><rect class="m4" x="787" width="46"/><rect class="m20" x="884" width="46"/><rect class="m11" x="995" width="30"/><rect class="m2" x="1036" width="26"/><rect class="m12" x="1113" width="17"/></g>
<g id="C-AtPHYD" transform="translate(0,1178.3)"><line x1="70" x2="1163"/><rect class="m16" x="170" width="45"/><rect class="m14" x="259" width="47"/><rect class="m1" x="324" width="46"/><rect class="m3" x="404" width="25"/><rect class="m6" x="442" width="46"/><rect class="m7" x="491" width="46"/><rect class="m5" x="576" width="36"/><rect class="m8" x="615" width="39"/><rect class="m13" x="681" width="46"/><rect class="m4" x="793" width="46"/><rect class="m20" x="889" width="46"/><rect class="m11" x="1000" width="30"/><rect class="m2" x="1042" width="26"/><rect class="m12" x="1119" width="18"/></g>
<g id="C-BoPHYB" transform="translate(0,1217.6)"><line x1="70" x2="1155"/><rect class="m16" x="166" width="46"/><rect class="m14" x="255" width="47"/><rect class="m1" x="320" width="46"/><rect class="m3" x="398" width="26"/><rect class="m6" x="434" width="46"/><rect class="m7" x="483" width="46"/><rect class="m5" x="567" width="36"/><rect class="m8" x="606" width="38"/><rect class="m13" x="668" width="47"/><rect class="m4" x="780" width="46"/><rect class="m20" x="876" width="47"/><rect class="m11" x="986" width="30"/><rect class="m2" x="1029" width="26"/><rect class="m12" x="1104" width="18"/></g>
<g id="C-AtPHYE" transform="translate(0,1256.9)"><line x1="70" x2="1115"/><rect class="m16" x="133" width="45"/><rect class="m14" x="224" width="47"/><rect class="m1" x="290" width="46"/><rect class="m3" x="369" width="25"/><rect class="m6" x="397" width="45"/><rect class="m7" x="446" width="45"/><rect class="m5" x="530" width="36"/><rect class="m8" x="569" width="39"/><rect class="m13" x="624" width="46"/><rect class="m4" x="739" width="46"/><rect class="m20" x="835" width="46"/><rect class="m11" x="943" width="30"/><rect class="m2" x="985" width="27"/><rect class="m12" x="1063" width="18"/></g>
<g id="C-BoPHYE" transform="translate(0,1296.1)"><line x1="70" x2="1118"/><rect class="m16" x="133" width="45"/><rect class="m14" x="224" width="47"/><rect class="m1" x="290" width="46"/><rect class="m3" x="369" width="25"/><rect class="m6" x="397" width="45"/><rect class="m7" x="446" width="45"/><rect class="m5" x="531" width="36"/><rect class="m8" x="571" width="39"/><rect class="m13" x="629" width="46"/><rect class="m4" x="743" width="46"/><rect class="m20" x="840" width="46"/><rect class="m11" x="947" width="30"/><rect class="m2" x="989" width="27"/><rect class="m12" x="1068" width="18"/></g>
<g id="C-AtPHYC" transform="translate(0,1335.4)"><line x1="70" x2="1113"/><rect class="m16" x="133" width="45"/><rect class="m14" x="220" width="47"/><rect class="m1" x="289" width="46"/><rect class="m3" x="366" width="25"/><rect class="m6" x="402" width="46"/><rect class="m7" x="451" width="46"/><rect class="m5" x="535" width="36"/><rect class="m8" x="574" width="39"/><rect class="m13" x="632" width="46"/><rect class="m4" x="743" width="46"/><rect class="m20" x="842" width="47"/><rect class="m11" x="954" width="30"/><rect class="m2" x="995" width="27"/><rect class="m12" x="1075" width="18"/></g>
<g id="C-BoPHYC" transform="translate(0,1374.6)"><line x1="70" x2="1118"/><rect class="m16" x="135" width="45"/><rect class="m14" x="223" width="47"/><rect class="m1" x="290" width="46"/><rect class="m3" x="369" width="25"/><rect class="m6" x="405" width="46"/><rect class="m7" x="454" width="46"/><rect class="m5" x="539" width="36"/><rect class="m8" x="579" width="39"/><rect class="m13" x="638" width="46"/><rect class="m4" x="749" width="46"/><rect class="m20" x="848" width="47"/><rect class="m11" x="959" width="30"/><rect class="m2" x="1003" width="27"/><rect class="m12" x="1082" width="18"/></g>
<g id="C-AtPHYA" transform="translate(0,1413.9)"><line x1="70" x2="1125"/><rect class="m16" x="137" width="45"/><rect class="m14" x="226" width="47"/><rect class="m1" x="292" width="46"/><rect class="m3" x="371" width="25"/><rect class="m6" x="410" width="46"/><rect class="m7" x="459" width="46"/><rect class="m5" x="545" width="36"/><rect class="m8" x="584" width="39"/><rect class="m13" x="646" width="46"/><rect class="m4" x="757" width="46"/><rect class="m20" x="856" width="47"/><rect class="m11" x="968" width="30"/><rect class="m2" x="1010" width="26"/><rect class="m12" x="1087" width="18"/></g>
<g id="C-BoPHYAa" transform="translate(0,1453.1)"><line x1="70" x2="1125"/><rect class="m16" x="137" width="45"/><rect class="m14" x="226" width="47"/><rect class="m1" x="292" width="46"/><rect class="m3" x="371" width="25"/><rect class="m6" x="412" width="46"/><rect class="m7" x="461" width="46"/><rect class="m5" x="545" width="36"/><rect class="m8" x="585" width="39"/><rect class="m13" x="648" width="46"/><rect class="m4" x="759" width="46"/><rect class="m20" x="858" width="46"/><rect class="m11" x="969" width="30"/><rect class="m2" x="1011" width="26"/><rect class="m12" x="1087" width="18"/></g>
<g id="C-BoPHYAb" transform="translate(0,1492.4)"><line x1="70" x2="1125"/><rect class="m16" x="139" width="45"/><rect class="m14" x="228" width="47"/><rect class="m1" x="294" width="46"/><rect class="m3" x="371" width="25"/><rect class="m6" x="412" width="46"/><rect class="m7" x="461" width="46"/><rect class="m5" x="543" width="36"/><rect class="m8" x="582" width="39"/><rect class="m13" x="646" width="46"/><rect class="m4" x="757" width="46"/><rect class="m20" x="858" width="46"/><rect class="m11" x="969" width="30"/><rect class="m2" x="1011" width="26"/><rect class="m12" x="1087" width="18"/></g>
</g>
<g id="legendC">
<g transform="translate(0,528)"><text class="mt" x="627.5" y="3.4">Motif 1</text><rect class="m1" x="630.5" y="-5.3" width="38.7" height="10.7" rx="3"/><text class="mt" x="713" y="3.4">Motif 2</text><rect class="m2" x="716" y="-5.3" width="38.7" height="10.7" rx="3"/><text class="mt" x="797" y="3.4">Motif 3</text><rect class="m3" x="800" y="-5.3" width="38.7" height="10.7" rx="3"/><text class="mt" x="880.5" y="3.4">Motif 4</text><rect class="m4" x="883.5" y="-5.3" width="38.7" height="10.7" rx="3"/><text class="mt" x="965.5" y="3.4">Motif 5</text><rect class="m5" x="968.5" y="-5.3" width="38.7" height="10.7" rx="3"/></g>
<g transform="translate(0,548)"><text class="mt" x="627.5" y="3.4">Motif 6</text><rect class="m6" x="630.5" y="-5.3" width="38.7" height="10.7" rx="3"/><text class="mt" x="713" y="3.4">Motif 7</text><rect class="m7" x="716" y="-5.3" width="38.7" height="10.7" rx="3"/><text class="mt" x="797" y="3.4">Motif 8</text><rect class="m8" x="800" y="-5.3" width="38.7" height="10.7" rx="3"/><text class="mt" x="880.5" y="3.4">Motif 9</text><rect class="m9" x="883.5" y="-5.3" width="38.7" height="10.7" rx="3"/><text class="mt" x="966.5" y="3.4">Motif 10</text><rect class="m10" x="969.5" y="-5.3" width="38.7" height="10.7" rx="3"/></g>
<g transform="translate(0,567)"><text class="mt" x="629.5" y="3.4">Motif 11</text><rect class="m11" x="632.5" y="-5.3" width="38.7" height="10.7" rx="3"/><text class="mt" x="715" y="3.4">Motif 12</text><rect class="m12" x="718" y="-5.3" width="38.7" height="10.7" rx="3"/><text class="mt" x="798" y="3.4">Motif 13</text><rect class="m13" x="801" y="-5.3" width="38.7" height="10.7" rx="3"/><text class="mt" x="881" y="3.4">Motif 14</text><rect class="m14" x="884" y="-5.3" width="38.7" height="10.7" rx="3"/><text class="mt" x="967.5" y="3.4">Motif 15</text><rect class="m15" x="970.5" y="-5.3" width="38.7" height="10.7" rx="3"/></g>
<g transform="translate(0,584.7)"><text class="mt" x="629.5" y="3.4">Motif 16</text><rect class="m16" x="632.5" y="-5.3" width="38.7" height="10.7" rx="3"/><text class="mt" x="715" y="3.4">Motif 17</text><rect class="m17" x="718" y="-5.3" width="38.7" height="10.7" rx="3"/><text class="mt" x="798" y="3.4">Motif 18</text><rect class="m18" x="802" y="-5.3" width="38.7" height="10.7" rx="3"/><text class="mt" x="882" y="3.4">Motif 19</text><rect class="m19" x="885" y="-5.3" width="38.7" height="10.7" rx="3"/><text class="mt" x="968.5" y="3.4">Motif 20</text><rect class="m20" x="971.5" y="-5.3" width="38.7" height="10.7" rx="3"/></g>
</g>

<!-- Panel D tree -->
<g id="connectorsD">
<path class="tr" d="M165.7 663.8V681.2M133.3 672.5V698.6M165.7 716V733.4M101 685.55V724.7M165.7 750.8V768.2M69 705.1V759.5M165.7 803V820.4M133.3 785.6V811.7M39 732.3V798.65M165.7 837.8V855.2M165.7 872.6V890M133.3 846.5V881.3M5.7 765.5V863.9"/>
<path class="tr" d="M165.7 663.8H196.7M165.7 681.2H196.7M133.3 698.6H196.7M165.7 716H196.7M165.7 733.4H196.7M165.7 750.8H196.7M165.7 768.2H196.7M133.3 785.6H196.7M165.7 803H196.7M165.7 820.4H196.7M165.7 837.8H196.7M165.7 855.2H196.7M165.7 872.6H196.7M165.7 890H196.7"/>
<path class="tr" d="M133.3 672.5H165.7M101 685.55H133.3M101 724.7H165.7M69 705.1H101M69 759.5H165.7M39 732.3H69M133.3 811.7H165.7M39 798.65H133.3M5.7 765.5H39M133.3 846.5H165.7M133.3 881.3H165.7M5.7 863.9H133.3"/>
</g>
<g id="bootstrapD">
<text class="bsd" x="165.7" y="670.3">58</text><text class="bsd" x="133.3" y="683.3">98</text><text class="bsd" x="165.7" y="733.5">99</text><text class="bsd" x="101" y="702.9">88</text><text class="bsd" x="165.7" y="770">100</text><text class="bsd" x="69" y="730.1">96</text><text class="bsd" x="165.7" y="821.8">91</text><text class="bsd" x="133.3" y="808.5">100</text><text class="bsd" x="165.7" y="844.3">100</text><text class="bsd" x="165.7" y="890">100</text><text class="bsd" x="133.3" y="874">96</text>
</g>
<g id="leavesD">
<g id="D-BoHP2.1"><use href="#dd" x="201.7" y="663.8"/><text class="ld" x="207.3" y="666.7">BoHP2.1</text></g>
<g id="D-BoHP2.2"><use href="#dd" x="201.7" y="681.2"/><text class="ld" x="207.3" y="684.1">BoHP2.2</text></g>
<g id="D-AtHP2"><use href="#ed" x="201.7" y="698.6"/><text class="ld" x="207.3" y="701.5">AtHP2</text></g>
<g id="D-BoHP3"><use href="#dd" x="201.7" y="716"/><text class="ld" x="207.3" y="718.9">BoHP3</text></g>
<g id="D-AtHP3"><use href="#ed" x="201.7" y="733.4"/><text class="ld" x="207.3" y="736.3">AtHP3</text></g>
<g id="D-BoHP5"><use href="#dd" x="201.7" y="750.8"/><text class="ld" x="207.3" y="753.7">BoHP5</text></g>
<g id="D-AtHP5"><use href="#ed" x="201.7" y="768.2"/><text class="ld" x="207.3" y="771.1">AtHP5</text></g>
<g id="D-AtHP4"><use href="#ed" x="201.7" y="785.6"/><text class="ld" x="207.3" y="788.5">AtHP4</text></g>
<g id="D-BoHP4.1"><use href="#dd" x="201.7" y="803"/><text class="ld" x="207.3" y="805.9">BoHP4.1</text></g>
<g id="D-BoHP4.2"><use href="#dd" x="201.7" y="820.4"/><text class="ld" x="207.3" y="823.3">BoHP4.2</text></g>
<g id="D-BoHP1"><use href="#dd" x="201.7" y="837.8"/><text class="ld" x="207.3" y="840.7">BoHP1</text></g>
<g id="D-AtHP1"><use href="#ed" x="201.7" y="855.2"/><text class="ld" x="207.3" y="858.1">AtHP1</text></g>
<g id="D-AtHP6"><use href="#ed" x="201.7" y="872.6"/><text class="ld" x="207.3" y="875.5">AtHP6</text></g>
<g id="D-BoHP6"><use href="#dd" x="201.7" y="890"/><text class="ld" x="207.3" y="892.9">BoHP6</text></g>
</g>

<!-- Panel E gene structures (coords x3) -->
<g id="panelE" transform="translate(220,640) scale(0.333333)">
<g id="E-BoHP2.1" class="ge" transform="translate(0,72)"><line x1="65" x2="752"/><rect x="65" width="85"/><rect x="283" width="60"/><rect x="385" width="32"/><rect x="456" width="32"/><rect x="524" width="32"/><rect x="599" width="153"/></g>
<g id="E-BoHP2.2" class="ge" transform="translate(0,124.2)"><line x1="65" x2="746"/><rect x="65" width="101"/><rect x="277" width="60"/><rect x="389" width="33"/><rect x="467" width="33"/><rect x="544" width="34"/><rect x="629" width="117"/></g>
<g id="E-AtHP2" class="ge" transform="translate(0,176.4)"><line x1="65" x2="752"/><rect x="65" width="101"/><rect x="275" width="59"/><rect x="376" width="32"/><rect x="450" width="33"/><rect x="517" width="33"/><rect x="605" width="147"/></g>
<g id="E-BoHP3" class="ge" transform="translate(0,228.6)"><line x1="65" x2="977"/><rect x="65" width="115"/><rect x="222" width="97"/><rect x="515" width="59"/><rect x="619" width="33"/><rect x="695" width="33"/><rect x="764" width="33"/><rect x="836" width="141"/></g>
<g id="E-AtHP3" class="ge" transform="translate(0,280.8)"><line x1="65" x2="1099"/><rect x="65" width="128"/><rect x="431" width="60"/><rect x="533" width="32"/><rect x="612" width="33"/><rect x="693" width="33"/><rect x="767" width="332"/></g>
<g id="E-BoHP5" class="ge" transform="translate(0,333)"><line x1="65" x2="939"/><rect x="65" width="47"/><rect x="204" width="34"/><rect x="322" width="60"/><rect x="433" width="33"/><rect x="525" width="32"/><rect x="724" width="33"/><rect x="803" width="136"/></g>
<g id="E-AtHP5" class="ge" transform="translate(0,385.2)"><line x1="65" x2="939"/><rect x="65" width="205"/><rect x="340" width="60"/><rect x="470" width="33"/><rect x="551" width="33"/><rect x="643" width="296"/></g>
<g id="E-AtHP4" class="ge" transform="translate(0,437.4)"><line x1="65" x2="826"/><rect x="65" width="92"/><rect x="214" width="61"/><rect x="312" width="32"/><rect x="458" width="32"/><rect x="585" width="31"/><rect x="675" width="151"/></g>
<g id="E-BoHP4.1" class="ge" transform="translate(0,489.6)"><line x1="65" x2="699"/><rect x="65" width="28"/><rect x="149" width="60"/><rect x="252" width="32"/><rect x="406" width="33"/><rect x="507" width="32"/><rect x="599" width="100"/></g>
<g id="E-BoHP4.2" class="ge" transform="translate(0,541.8)"><line x1="65" x2="753"/><rect x="65" width="57"/><rect x="186" width="61"/><rect x="293" width="32"/><rect x="457" width="33"/><rect x="581" width="32"/><rect x="668" width="85"/></g>
<g id="E-BoHP1" class="ge" transform="translate(0,594)"><line x1="65" x2="812"/><rect x="65" width="103"/><rect x="328" width="60"/><rect x="438" width="32"/><rect x="527" width="33"/><rect x="604" width="33"/><rect x="685" width="127"/></g>
<g id="E-AtHP1" class="ge" transform="translate(0,646.2)"><line x1="65" x2="1059"/><rect x="65" width="146"/><rect x="322" width="60"/><rect x="428" width="32"/><rect x="511" width="33"/><rect x="588" width="33"/><rect x="687" width="372"/></g>
<g id="E-AtHP6" class="ge" transform="translate(0,698.4)"><line x1="65" x2="649"/><rect x="65" width="140"/><rect x="261" width="67"/><rect x="389" width="248"/><rect class="up" x="637" width="12"/></g>
<g id="E-BoHP6" class="ge" transform="translate(0,750.6)"><line x1="65" x2="571"/><rect x="65" width="69"/><rect x="180" width="61"/><rect x="297" width="66"/><rect x="411" width="32"/><rect x="534" width="37"/></g>
<g id="E-axis">
<path class="ax" stroke="#333" stroke-width="3" d="M62 800H1095M62 800V788M302 800V788M542 800V788M782 800V788M1022 800V788"/>
<g font-size="27" fill="#222" text-anchor="middle"><text x="73" y="842">0bp</text><text x="311" y="842">500bp</text><text x="552" y="842">1000bp</text><text x="792" y="842">1500bp</text><text x="1032" y="842">2000bp</text></g>
<g font-size="18" fill="#555"><text x="42" y="786">5'</text><text x="1108" y="786">3'</text></g>
</g>
</g>
<g id="legendE">
<text class="ser" x="281.7" y="954" font-size="13.2">Legend:</text>
<rect x="313.3" y="968.2" width="15" height="9" rx="4.5" fill="#0B7A0B"/>
<text class="ser" x="332.3" y="976.5" font-size="10.2">CDS</text>
<rect x="365" y="970.5" width="14.3" height="4.5" fill="url(#blu)"/>
<text class="ser" x="382.7" y="976.5" font-size="10.2" textLength="101" lengthAdjust="spacingAndGlyphs">upstream/ downstream</text>
<line x1="486.7" y1="972.7" x2="516.7" y2="972.7" stroke="#111" stroke-width="1.5"/>
<text class="ser" x="526.7" y="976.5" font-size="10.2">Intron</text>
</g>

<!-- Panel F motifs (coords x3) -->
<g id="panelF" class="pf" transform="translate(600,640) scale(0.333333)">
<line x1="65" y1="45" x2="65" y2="785" style="stroke:#111;stroke-width:7"/>
<g id="F-r1" transform="translate(0,72)"><line x1="97" x2="977"/><rect class="m4" x="97" width="80"/><rect class="m2" x="193" width="276"/><rect class="m5" x="481" width="56"/><rect class="m1" x="549" width="275"/><rect class="m3" x="831" width="111"/></g>
<g id="F-r2" transform="translate(0,124.7)"><line x1="97" x2="977"/><rect class="m4" x="97" width="80"/><rect class="m2" x="193" width="276"/><rect class="m5" x="481" width="56"/><rect class="m1" x="549" width="275"/><rect class="m3" x="831" width="111"/></g>
<g id="F-r3" transform="translate(0,177.4)"><line x1="97" x2="977"/><rect class="m4" x="97" width="80"/><rect class="m2" x="193" width="276"/><rect class="m5" x="481" width="56"/><rect class="m1" x="549" width="275"/><rect class="m3" x="831" width="111"/></g>
<g id="F-r4" transform="translate(0,230.1)"><line x1="97" x2="972"/><rect class="m4" x="97" width="80"/><rect class="m2" x="193" width="276"/><rect class="m5" x="481" width="56"/><rect class="m1" x="549" width="275"/><rect class="m3" x="831" width="111"/></g>
<g id="F-r5" transform="translate(0,282.8)"><line x1="97" x2="1248"/><rect class="m11" x="97" width="29"/><rect class="m9" x="148" width="29"/><rect class="m12" x="183" width="26"/><rect class="m13" x="217" width="27"/><rect class="m14" x="251" width="27"/><rect class="m15" x="284" width="27"/><rect class="m16" x="318" width="28"/><rect class="m4" x="373" width="79"/><rect class="m2" x="470" width="275"/><rect class="m5" x="757" width="56"/><rect class="m1" x="826" width="274"/><rect class="m3" x="1107" width="111"/></g>
<g id="F-r6" transform="translate(0,335.5)"><line x1="97" x2="977"/><rect class="m4" x="97" width="80"/><rect class="m2" x="193" width="276"/><rect class="m5" x="481" width="56"/><rect class="m1" x="549" width="275"/><rect class="m3" x="831" width="111"/></g>
<g id="F-r7" transform="translate(0,388.2)"><line x1="103" x2="983"/><rect class="m4" x="103" width="80"/><rect class="m2" x="199" width="276"/><rect class="m5" x="487" width="56"/><rect class="m1" x="555" width="275"/><rect class="m3" x="837" width="111"/></g>
<g id="F-r8" transform="translate(0,440.9)"><line x1="97" x2="815"/><rect class="m2" x="121" width="275"/><rect class="m5" x="403" width="55"/><rect class="m1" x="470" width="275"/><rect class="m9" x="774" width="27"/></g>
<g id="F-r9" transform="translate(0,493.6)"><line x1="97" x2="915"/><rect class="m8" x="97" width="40"/><rect class="m2" x="155" width="275"/><rect class="m5" x="437" width="55"/><rect class="m1" x="504" width="275"/><rect class="m3" x="786" width="111"/></g>
<g id="F-r10" transform="translate(0,546.3)"><line x1="97" x2="915"/><rect class="m8" x="97" width="40"/><rect class="m2" x="155" width="275"/><rect class="m5" x="437" width="55"/><rect class="m1" x="504" width="275"/><rect class="m3" x="786" width="111"/></g>
<g id="F-r11" transform="translate(0,599)"><line x1="97" x2="965"/><rect class="m7" x="97" width="80"/><rect class="m2" x="183" width="275"/><rect class="m5" x="465" width="56"/><rect class="m1" x="533" width="275"/><rect class="m3" x="814" width="112"/><rect class="m10" x="932" width="27"/></g>
<g id="F-r12" transform="translate(0,651.7)"><line x1="97" x2="965"/><rect class="m7" x="97" width="80"/><rect class="m2" x="183" width="275"/><rect class="m5" x="465" width="56"/><rect class="m1" x="533" width="275"/><rect class="m3" x="814" width="112"/><rect class="m10" x="932" width="27"/></g>
<g id="F-r13" transform="translate(0,704.4)"><line x1="97" x2="965"/><rect class="m6" x="97" width="80"/><rect class="m2" x="199" width="276"/><rect class="m5" x="487" width="56"/><rect class="m1" x="555" width="275"/><rect class="m3" x="837" width="111"/></g>
<g id="F-r14" transform="translate(0,757.1)"><line x1="97" x2="965"/><rect class="m6" x="97" width="80"/><rect class="m2" x="199" width="276"/><rect class="m5" x="487" width="56"/><rect class="m1" x="555" width="275"/><rect class="m3" x="837" width="111"/></g>
</g>
<g id="legendF">
<g transform="translate(0,945.3)"><text class="mf" x="636" y="3.5">Motif 1</text><rect class="m1" x="672.7" y="-8.65" width="26.7" height="17.3" rx="3.5"/><text class="mf" x="724" y="3.5">Motif 2</text><rect class="m2" x="762.3" y="-11" width="26.7" height="17.3" rx="3.5"/><text class="mf" x="816" y="3.5">Motif 3</text><rect class="m3" x="856" y="-9.5" width="26.7" height="17.3" rx="3.5"/><text class="mf" x="903.3" y="3.5">Motif 4</text><rect class="m4" x="942.7" y="-9.5" width="26.7" height="17.3" rx="3.5"/></g>
<g transform="translate(0,972)"><text class="mf" x="636" y="3.5">Motif 5</text><rect class="m5" x="672.7" y="-8.65" width="26.7" height="17.3" rx="3.5"/><text class="mf" x="724" y="3.5">Motif 6</text><rect class="m6" x="762.3" y="-8" width="26.7" height="17.3" rx="3.5"/><text class="mf" x="816" y="3.5">Motif 7</text><rect class="m7" x="856" y="-8.65" width="26.7" height="17.3" rx="3.5"/><text class="mf" x="903.3" y="3.5">Motif 8</text><rect class="m8" x="942.7" y="-8.65" width="26.7" height="17.3" rx="3.5"/></g>
<g transform="translate(0,1000.7)"><text class="mf" x="636" y="3.5">Motif 9</text><rect class="m9" x="672.7" y="-8.65" width="26.7" height="17.3" rx="3.5"/><text class="mf" x="724" y="3.5">Motif 10</text><rect class="m10" x="762.3" y="-10" width="26.7" height="17.3" rx="3.5"/><text class="mf" x="816" y="3.5">Motif 11</text><rect class="m11" x="856" y="-10" width="26.7" height="17.3" rx="3.5"/><text class="mf" x="903.3" y="3.5">Motif 12</text><rect class="m12" x="942.7" y="-10" width="26.7" height="17.3" rx="3.5"/></g>
<g transform="translate(0,1026.7)"><text class="mf" x="636" y="3.5">Motif 13</text><rect class="m13" x="673.3" y="-8.65" width="26.7" height="17.3" rx="3.5"/><text class="mf" x="724" y="3.5">Motif 14</text><rect class="m14" x="762.3" y="-10" width="26.7" height="17.3" rx="3.5"/><text class="mf" x="816" y="3.5">Motif 15</text><rect class="m15" x="856" y="-8.65" width="26.7" height="17.3" rx="3.5"/><text class="mf" x="903.3" y="3.5">Motif 16</text><rect class="m16" x="942.7" y="-8.65" width="26.7" height="17.3" rx="3.5"/></g>
</g>
</svg>
